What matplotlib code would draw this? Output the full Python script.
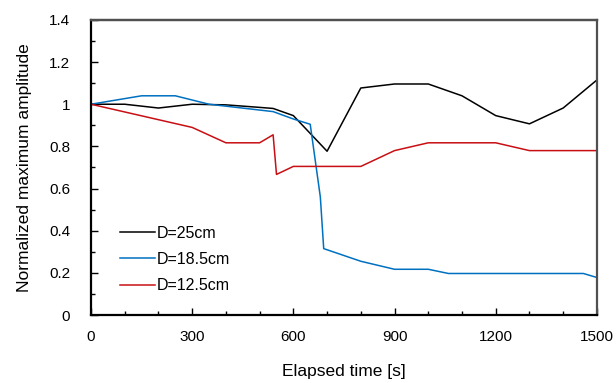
import numpy as np
import matplotlib.pyplot as plt
from matplotlib.ticker import MultipleLocator, FuncFormatter

plt.rcParams['font.family'] = ['Liberation Sans', 'DejaVu Sans']

# D = 25 cm
t_25 = [0, 100, 200, 300, 400, 500, 540, 600, 700, 800, 900, 1000, 1100, 1200, 1300, 1400, 1500]
a_25 = [1.0, 1.0, 0.982, 1.0, 0.997, 0.985, 0.98, 0.946, 0.777, 1.077, 1.096, 1.096, 1.04, 0.946, 0.907, 0.982, 1.115]

# D = 18.5 cm
t_18 = [0, 150, 250, 350, 540, 600, 650, 680, 690, 800, 900, 1000, 1060, 1460, 1500]
a_18 = [1.0, 1.04, 1.04, 1.0, 0.965, 0.93, 0.905, 0.56, 0.315, 0.255, 0.217, 0.217, 0.197, 0.197, 0.178]

# D = 12.5 cm
t_12 = [0, 300, 400, 500, 540, 550, 600, 800, 900, 1000, 1200, 1300, 1500]
a_12 = [1.0, 0.89, 0.817, 0.817, 0.855, 0.667, 0.705, 0.705, 0.78, 0.817, 0.817, 0.78, 0.78]

fig = plt.figure(figsize=(6.16, 3.83), dpi=100)
ax = fig.add_axes([0.1477, 0.1775, 0.8213, 0.7705])

ax.plot(t_25, a_25, color='black', lw=1.1, label='D=25cm')
ax.plot(t_18, a_18, color='#0070C0', lw=1.1, label='D=18.5cm')
ax.plot(t_12, a_12, color='#C80F14', lw=1.1, label='D=12.5cm')

ax.set_xlim(0, 1500)
ax.set_ylim(0, 1.4)
ax.xaxis.set_major_locator(MultipleLocator(300))
ax.xaxis.set_minor_locator(MultipleLocator(100))
ax.yaxis.set_major_locator(MultipleLocator(0.2))
ax.yaxis.set_minor_locator(MultipleLocator(0.1))
ax.yaxis.set_major_formatter(FuncFormatter(lambda v, p: '%g' % round(v, 1)))

ax.tick_params(which='both', direction='in', top=False, right=False, labelsize=11, width=1)
ax.tick_params(which='major', length=5)
ax.tick_params(which='minor', length=3)
ax.tick_params(axis='x', which='major', pad=11)
ax.tick_params(axis='y', which='major', pad=15)

for s in ['left', 'bottom']:
    ax.spines[s].set_linewidth(1.6)
    ax.spines[s].set_color('black')
for s in ['top', 'right']:
    ax.spines[s].set_linewidth(1.6)
    ax.spines[s].set_color('#505050')
# plot frame top edge (spine alone gets lost at the figure edge)
ax.axhline(1.4, color='#505050', lw=1.6, clip_on=False, zorder=3)

ax.set_xlabel('Elapsed time [s]', fontsize=12.5, labelpad=14)
ax.set_ylabel('Normalized maximum amplitude', fontsize=12.5, labelpad=12)

ax.legend(loc='lower left', bbox_to_anchor=(0.028, 0.025), frameon=False, fontsize=11.5,
          handlelength=2.2, handletextpad=0.15, labelspacing=0.7)

fig.savefig('out.png', dpi=100)
